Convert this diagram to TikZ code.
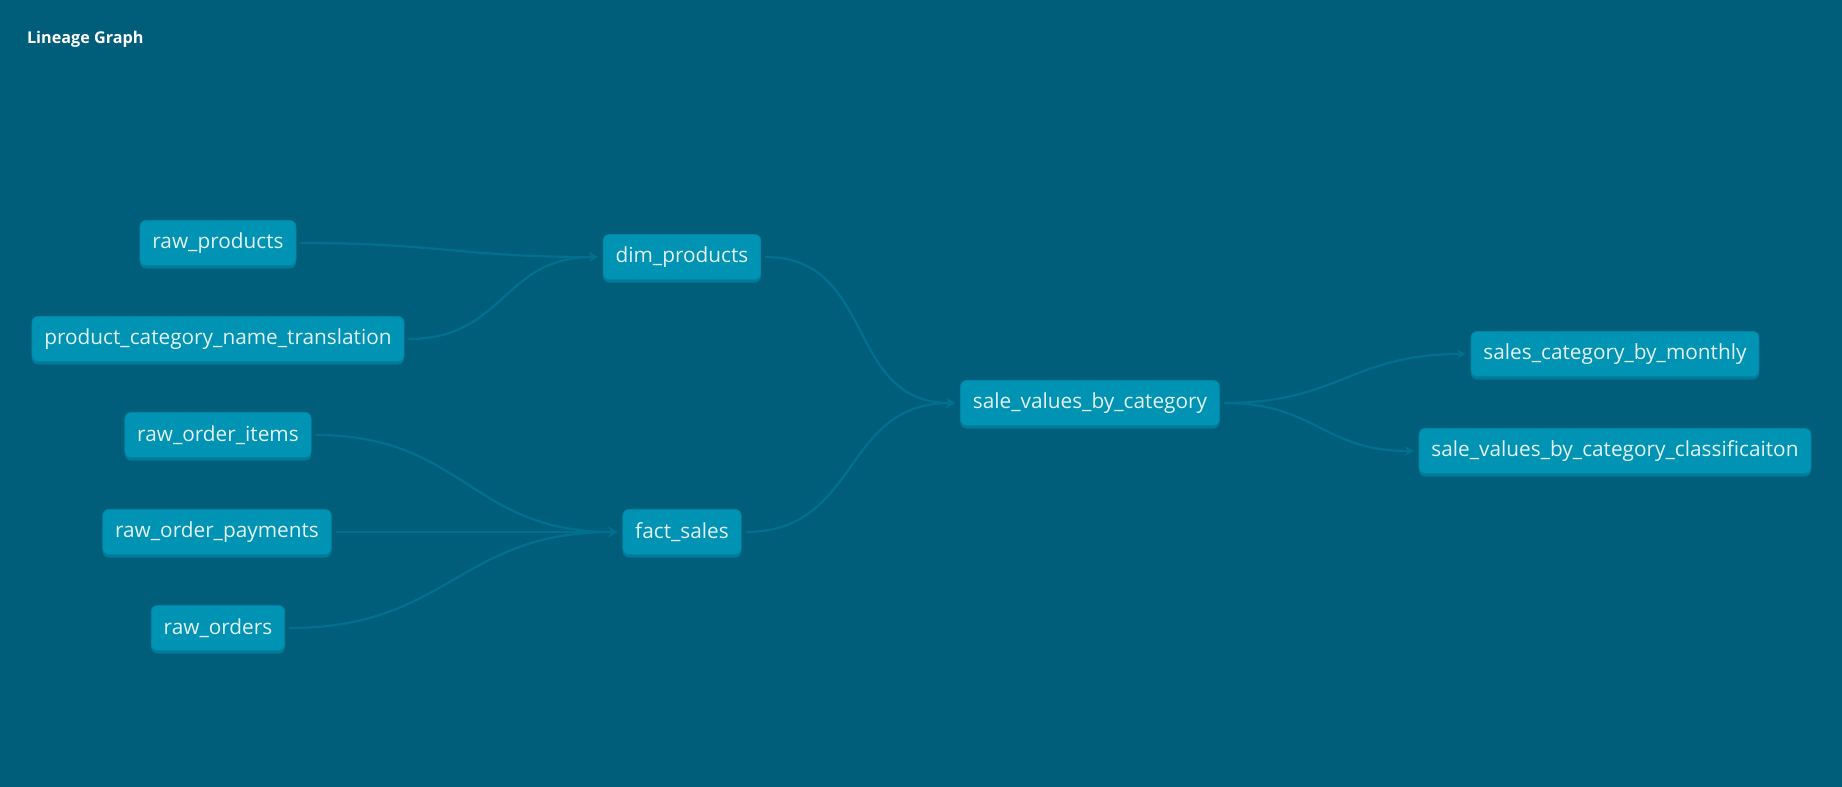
\documentclass[tikz,border=0pt]{standalone}
\usepackage{fontspec}
\setmainfont{Open Sans}
\usetikzlibrary{arrows.meta,shadows}

\definecolor{canvas}{RGB}{0,94,122}
\definecolor{boxfill}{RGB}{0,147,180}
\definecolor{boxshade}{RGB}{0,122,152}
\definecolor{boxedge}{RGB}{0,132,163}
\definecolor{linkcol}{RGB}{0,112,142}
\definecolor{labelcol}{RGB}{228,242,246}

\tikzset{
  model/.style={fill=boxfill, draw=boxedge, line width=0.4pt, rounded corners=3pt,
    minimum height=22.5pt, inner xsep=6.2pt, text=labelcol,
    font=\fontsize{10.4}{12}\selectfont,
    drop shadow={shadow xshift=0pt, shadow yshift=-1.5pt, fill=boxshade, opacity=1}},
  link/.style={draw=linkcol, line width=1.1pt, out=0, in=180, looseness=1.2,
    shorten <=2pt, shorten >=2.5pt, -{Stealth[length=4.5pt,width=5pt,inset=1.6pt]}}
}

\begin{document}
\begin{tikzpicture}[x=0.5pt, y=-0.5pt]
        \fill[canvas] (0,0) rectangle (1842,787);
        \node[anchor=west, text=white, font=\bfseries\fontsize{8.1}{9}\selectfont] (title) at (20,39) {Lineage Graph};

        % sources
        \node[model] (rprod) at (218,243) {raw\_products};
        \node[model] (pcnt) at (218,339) {product\_category\_name\_translation};
        \node[model] (ritems) at (218,435) {raw\_order\_items};
        \node[model] (rpay) at (217,532) {raw\_order\_payments};
        \node[model] (rord) at (218,628) {raw\_orders};

        % models
        \node[model] (dimp) at (682,257) {dim\_products};
        \node[model] (fact) at (682,532) {fact\_sales};
        \node[model] (svbc) at (1090,403) {sale\_values\_by\_category};
        \node[model] (scbm) at (1615,354) {sales\_category\_by\_monthly};
        \node[model] (svbcc) at (1615,451) {sale\_values\_by\_category\_classificaiton};

        \foreach \src in {rprod,pcnt}{
          \draw[link] (\src.east) to (dimp.west);
        }
        \foreach \src in {ritems,rpay,rord}{
          \draw[link] (\src.east) to (fact.west);
        }
        \foreach \src in {dimp,fact}{
          \draw[link] (\src.east) to (svbc.west);
        }
        \foreach \dst in {scbm,svbcc}{
          \draw[link] (svbc.east) to (\dst.west);
        }
\end{tikzpicture}
\end{document}
